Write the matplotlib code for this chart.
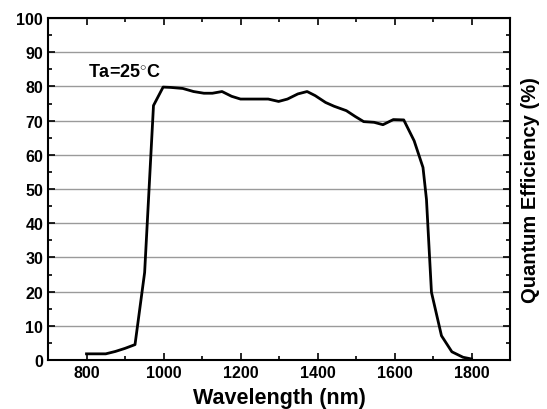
import numpy as np
import matplotlib.pyplot as plt
from matplotlib.ticker import MultipleLocator

# wavelength (nm) vs quantum efficiency (%)
wavelength = [800, 850, 875, 900, 926, 951, 974, 999, 1019, 1050, 1078, 1105, 1127,
              1152, 1177, 1200, 1227, 1272, 1299, 1322, 1349, 1373, 1394, 1421,
              1443, 1475, 1498, 1520, 1547, 1570, 1597, 1624, 1651, 1674, 1683,
              1696, 1722, 1749, 1778, 1800]
qe = [1.8, 1.8, 2.5, 3.4, 4.5, 25.6, 74.4, 79.8, 79.7, 79.4, 78.5, 78.0, 78.0,
      78.5, 77.1, 76.3, 76.3, 76.3, 75.6, 76.3, 77.8, 78.5, 77.3, 75.3,
      74.2, 72.9, 71.2, 69.7, 69.5, 68.8, 70.3, 70.2, 64.1, 56.3, 47.0,
      19.8, 7.1, 2.4, 0.8, 0.3]

plt.rcParams['font.family'] = ['Liberation Sans', 'DejaVu Sans']
plt.rcParams['font.weight'] = 'bold'
plt.rcParams['mathtext.fontset'] = 'custom'
plt.rcParams['mathtext.rm'] = 'Liberation Sans:bold'
plt.rcParams['mathtext.default'] = 'rm'

fig = plt.figure(figsize=(5.47, 4.10), dpi=100)
ax = fig.add_axes([48/547, 1-361/410, (510-48)/547, (361-19)/410])

ax.plot(wavelength, qe, c='k', lw=2.0, zorder=3)

ax.set_xlim(700, 1900)
ax.set_ylim(0, 100)
ax.xaxis.set_major_locator(MultipleLocator(200))
ax.xaxis.set_minor_locator(MultipleLocator(100))
ax.yaxis.set_major_locator(MultipleLocator(10))
ax.yaxis.set_minor_locator(MultipleLocator(5))
ax.grid(axis='y', which='major', color='#9a9a9a', lw=1.0)
ax.set_axisbelow(True)
ax.tick_params(which='both', direction='in', top=True, right=True, width=1.2,
               labelsize=11.5)
ax.tick_params(which='major', length=5)
ax.tick_params(which='minor', length=3)
for s in ax.spines.values():
    s.set_linewidth(1.5)
for lab in ax.get_xticklabels() + ax.get_yticklabels():
    lab.set_fontweight('bold')

ax.set_xlabel('Wavelength (nm)', fontsize=15.5, fontweight='bold', labelpad=5)
ax.yaxis.set_label_position('right')
ax.set_ylabel('Quantum Efficiency (%)', fontsize=14.5, fontweight='bold', labelpad=8)

ax.text(803, 84.5, r'Ta=25$^{\circ}$C', fontsize=13, fontweight='bold', va='center')

plt.savefig('out.png', dpi=100)
